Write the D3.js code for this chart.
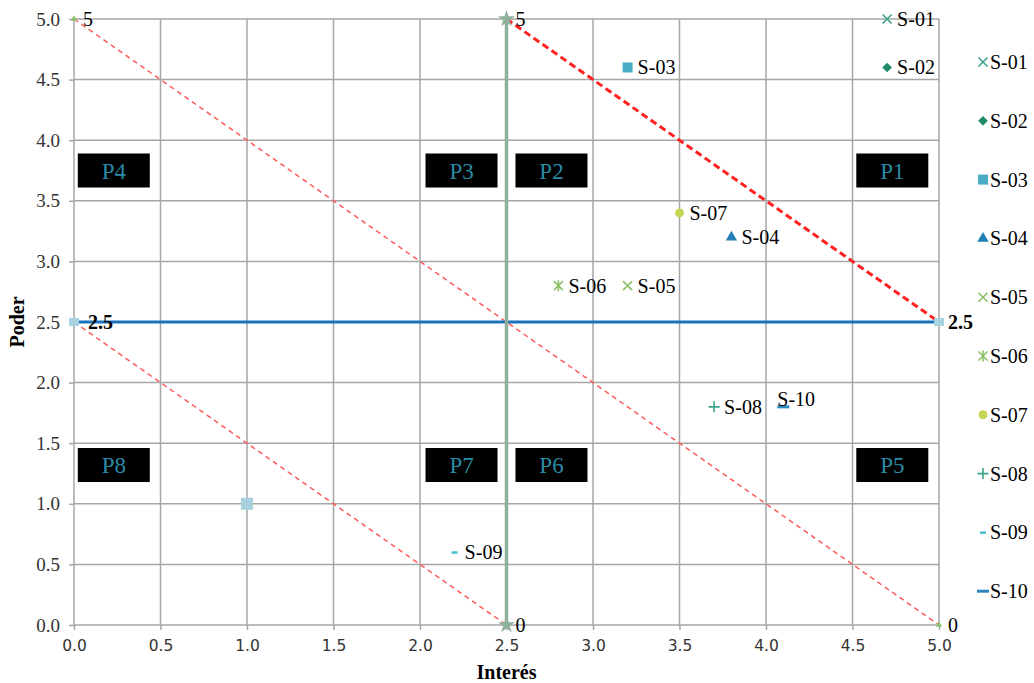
<!DOCTYPE html>
<html>
<head>
<meta charset="utf-8">
<script src="https://cdn.jsdelivr.net/npm/d3@7"></script>
<style>
  body { margin: 0; background: #fff; }
  #chart { width: 1034px; height: 683px; }
</style>
</head>
<body>
<div id="chart"></div>
<script>
// Stakeholders
const names = ["S-01", "S-02", "S-03", "S-04", "S-05", "S-06", "S-07", "S-08", "S-09", "S-10"];
const interes = [4.7, 4.7, 3.2, 3.8, 3.2, 2.8, 3.5, 3.7, 2.2, 4.1];
const poder = [5.0, 4.6, 4.6, 3.2, 2.8, 2.8, 3.4, 1.8, 0.6, 1.8];

// Reference lines [x1, y1, x2, y2]
const diagonals = [[0, 5, 5, 0], [0, 2.5, 2.5, 0]];
const diagonalBold = [2.5, 5, 5, 2.5];
const horizontal = [0, 2.5, 5, 2.5];
const vertical = [2.5, 0, 2.5, 5];

// Endpoint labels
const endX = [0, 2.5, 0, 5, 2.5, 5];
const endY = [5, 5, 2.5, 2.5, 0, 0];
const endLabels = ["5", "5", "2.5", "2.5", "0", "0"];

// Quadrant boxes
const boxNames = ["P1", "P2", "P3", "P4", "P5", "P6", "P7", "P8"];
const boxX = [4.73, 2.76, 2.24, 0.23, 4.73, 2.76, 2.24, 0.23];
const boxY = [3.75, 3.75, 3.75, 3.75, 1.32, 1.32, 1.32, 1.32];

// Extra point
const extraX = [1.0];
const extraY = [1.0];

const ticks = d3.range(0, 5.01, 0.5);

const margin = { top: 19, right: 95, bottom: 58, left: 74 };
const width = 1034;
const height = 683;

const x = d3.scaleLinear().domain([0, 5]).range([margin.left, width - margin.right]);
const y = d3.scaleLinear().domain([0, 5]).range([height - margin.bottom, margin.top]);

const colors = ["#3aa38a", "#1e8c6c", "#4bacc6", "#1f7fb4", "#8cc168", "#8cc168", "#c6d458", "#3aa38a", "#4bc0d0", "#2e86c1"];
const serif = "'Liberation Serif', 'Times New Roman', serif";

const svg = d3.select("#chart").append("svg")
  .attr("width", width)
  .attr("height", height);

// Grid
svg.append("g").selectAll("line")
  .data(ticks)
  .join("line")
  .attr("x1", (d) => x(d)).attr("x2", (d) => x(d))
  .attr("y1", y(0)).attr("y2", y(5))
  .attr("stroke", "#a6a6a6").attr("stroke-width", 1.5);

svg.append("g").selectAll("line")
  .data(ticks)
  .join("line")
  .attr("y1", (d) => y(d)).attr("y2", (d) => y(d))
  .attr("x1", x(0)).attr("x2", x(5))
  .attr("stroke", "#a6a6a6").attr("stroke-width", 1.5);

// Axes
const xAxis = svg.append("g")
  .attr("transform", `translate(0,${y(0)})`)
  .call(d3.axisBottom(x).tickValues(ticks).tickFormat(d3.format(".1f")).tickSize(5).tickPadding(10));
xAxis.select(".domain").remove();
xAxis.selectAll("line").attr("stroke", "#a6a6a6").attr("stroke-width", 1.5);
xAxis.selectAll("text").style("font-family", "'DejaVu Sans', Tahoma, sans-serif").style("font-size", "15.5px").attr("fill", "#333");

const yAxis = svg.append("g")
  .attr("transform", `translate(${x(0)},0)`)
  .call(d3.axisLeft(y).tickValues(ticks).tickFormat(d3.format(".1f")).tickSize(5).tickPadding(9));
yAxis.select(".domain").remove();
yAxis.selectAll("line").attr("stroke", "#a6a6a6").attr("stroke-width", 1.5);
yAxis.selectAll("text").style("font-family", serif).style("font-size", "19px").attr("fill", "#333");

// Axis titles
svg.append("text")
  .attr("x", x(2.5)).attr("y", 679)
  .attr("text-anchor", "middle")
  .style("font-family", serif).style("font-size", "20px").style("font-weight", "bold")
  .text("Interés");

svg.append("text")
  .attr("transform", `translate(24,${y(2.5)}) rotate(-90)`)
  .attr("text-anchor", "middle")
  .style("font-family", serif).style("font-size", "20px").style("font-weight", "bold")
  .text("Poder");

// Lines
const drawLine = (s, color, w, dash) =>
  svg.append("line")
    .attr("x1", x(s[0])).attr("y1", y(s[1]))
    .attr("x2", x(s[2])).attr("y2", y(s[3]))
    .attr("stroke", color).attr("stroke-width", w)
    .attr("stroke-dasharray", dash);

diagonals.forEach((s) => drawLine(s, "#ff5a5a", 1.5, "5,4"));
drawLine(diagonalBold, "#ff2020", 3, "7,4");
drawLine(horizontal, "#1a72bd", 3, null);
drawLine(vertical, "#8fb09a", 3.5, null);

// Endpoint markers
const endColors = ["#8cc168", "#8fb09a", "#a8d4e2", "#a8d4e2", "#8fb09a", "#8cc168"];
endX.forEach((v, i) => {
  const cx = x(v), cy = y(endY[i]);
  if (endColors[i] === "#8fb09a") {
    svg.append("path")
      .attr("transform", `translate(${cx},${cy})`)
      .attr("d", d3.symbol(d3.symbolStar, 90)())
      .attr("fill", "#8fb09a");
  } else if (endColors[i] === "#a8d4e2") {
    svg.append("rect")
      .attr("x", cx - 5).attr("y", cy - 4).attr("width", 10).attr("height", 8)
      .attr("fill", "#a8d4e2");
  } else {
    svg.append("path")
      .attr("transform", `translate(${cx},${cy})`)
      .attr("d", d3.symbol(d3.symbolTriangle, 18)())
      .attr("fill", "#8cc168");
  }
});

svg.append("g").selectAll("text")
  .data(endLabels)
  .join("text")
  .attr("x", (d, i) => x(endX[i]) + (i === 2 ? 14 : 9))
  .attr("y", (d, i) => y(endY[i]) + 7)
  .style("font-family", serif)
  .style("font-size", "20px")
  .style("font-weight", (d, i) => (i === 2 || i === 3 ? "bold" : "normal"))
  .text((d) => d);

// Extra square
svg.append("g").selectAll("rect")
  .data(extraX)
  .join("rect")
  .attr("x", (d) => x(d) - 6).attr("y", (d, i) => y(extraY[i]) - 6)
  .attr("width", 12).attr("height", 12)
  .attr("fill", "#a8d0dc");

// Quadrant boxes
const boxes = svg.append("g").selectAll("g")
  .data(boxNames)
  .join("g")
  .attr("transform", (d, i) => `translate(${x(boxX[i])},${y(boxY[i])})`);

boxes.append("rect")
  .attr("x", -36).attr("y", -17).attr("width", 72).attr("height", 34)
  .attr("fill", "#000");

boxes.append("text")
  .attr("text-anchor", "middle").attr("y", 8)
  .attr("fill", "#2a8aa6")
  .style("font-family", serif).style("font-size", "23px")
  .text((d) => d);

// Stakeholder markers
function marker(g, i, size) {
  const c = colors[i];
  const s = size;
  if (i === 0 || i === 4) {
    g.append("path").attr("d", `M${-s},${-s}L${s},${s}M${-s},${s}L${s},${-s}`)
      .attr("stroke", c).attr("stroke-width", 1.6).attr("fill", "none");
  } else if (i === 1) {
    g.append("path").attr("d", d3.symbol(d3.symbolDiamond2, 60)()).attr("fill", c);
  } else if (i === 2) {
    g.append("rect").attr("x", -5).attr("y", -5).attr("width", 10).attr("height", 10).attr("fill", c);
  } else if (i === 3) {
    g.append("path").attr("d", d3.symbol(d3.symbolTriangle, 55)()).attr("fill", c);
  } else if (i === 5) {
    g.append("path").attr("d", `M${-s},${-s}L${s},${s}M${-s},${s}L${s},${-s}M0,${-s - 1}L0,${s + 1}`)
      .attr("stroke", c).attr("stroke-width", 1.6).attr("fill", "none");
  } else if (i === 6) {
    g.append("circle").attr("r", 4.5).attr("fill", c);
  } else if (i === 7) {
    g.append("path").attr("d", `M${-s - 1},0L${s + 1},0M0,${-s - 1}L0,${s + 1}`)
      .attr("stroke", c).attr("stroke-width", 1.6).attr("fill", "none");
  } else if (i === 8) {
    g.append("rect").attr("x", -3).attr("y", -1).attr("width", 6).attr("height", 2.5).attr("fill", c);
  } else if (i === 9) {
    g.append("rect").attr("x", -6).attr("y", -1.5).attr("width", 12).attr("height", 3).attr("fill", c);
  }
}

const pts = svg.append("g").selectAll("g")
  .data(names)
  .join("g")
  .attr("transform", (d, i) => `translate(${x(interes[i])},${y(poder[i])})`);

pts.each(function (d, i) { marker(d3.select(this), i, 4.5); });

pts.append("text")
  .attr("x", (d, i) => (i === 9 ? -6 : 10))
  .attr("y", (d, i) => (i === 9 ? -1 : 7))
  .style("font-family", serif).style("font-size", "20px")
  .text((d) => d);

// Legend
const legend = svg.append("g").selectAll("g")
  .data(names)
  .join("g")
  .attr("transform", (d, i) => `translate(983,${62 + i * 58.8})`);

legend.each(function (d, i) { marker(d3.select(this), i, 4.5); });

legend.append("text")
  .attr("x", 7).attr("y", 7)
  .style("font-family", serif).style("font-size", "20px")
  .text((d) => d);
</script>
</body>
</html>
